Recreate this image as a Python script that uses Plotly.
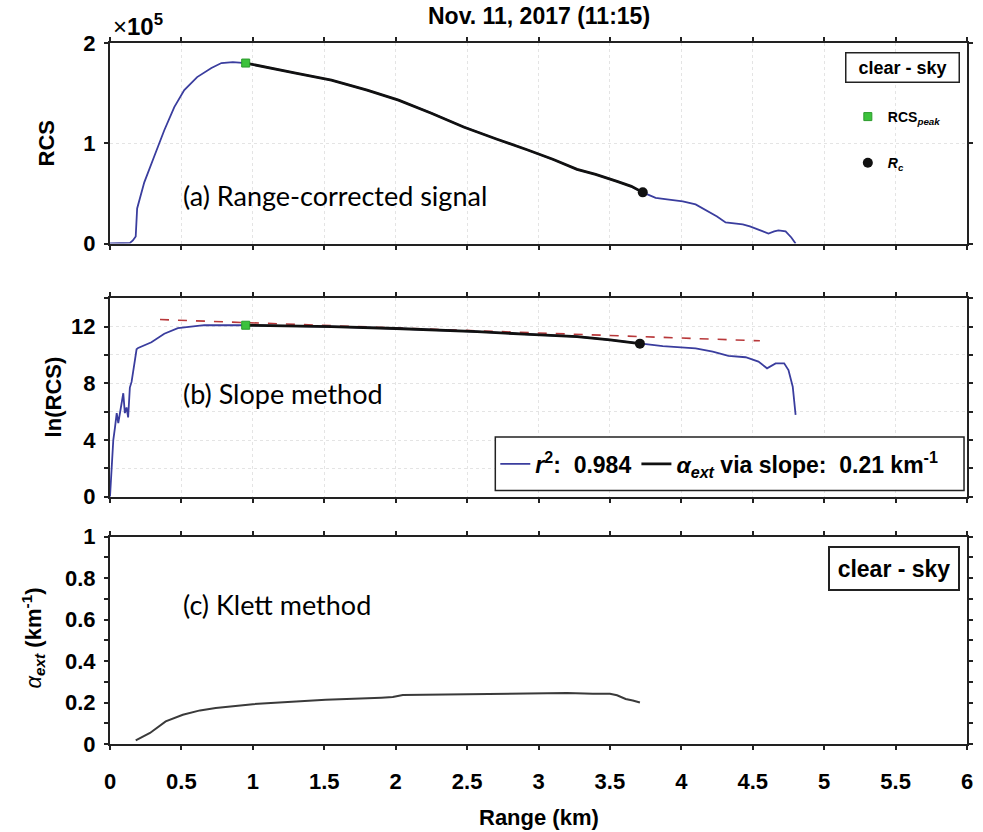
import plotly.graph_objects as go

# ---------------- data ----------------
# (a) range-corrected signal, full profile (range in km, RCS in units of 1e5)
range_a = [0.00, 0.05, 0.10, 0.14, 0.16, 0.18, 0.19, 0.24, 0.31, 0.38, 0.45, 0.52,
           0.61, 0.71, 0.78, 0.86, 0.95, 1.10, 1.30, 1.55, 1.80, 2.02, 2.25, 2.48,
           2.57, 2.71, 2.92, 3.10, 3.27, 3.40, 3.55, 3.65, 3.73, 3.78, 3.82, 3.90,
           4.01, 4.10, 4.19, 4.25, 4.31, 4.37, 4.43, 4.48, 4.54, 4.61, 4.65, 4.68,
           4.73, 4.77, 4.80]
rcs_e5 = [0.000, 0.002, 0.003, 0.006, 0.030, 0.070, 0.350, 0.610, 0.870, 1.130, 1.360, 1.530,
          1.660, 1.750, 1.800, 1.810, 1.800, 1.760, 1.700, 1.630, 1.530, 1.430, 1.300, 1.160,
          1.110, 1.040, 0.935, 0.840, 0.740, 0.690, 0.620, 0.570, 0.510, 0.480, 0.455, 0.440,
          0.420, 0.390, 0.320, 0.270, 0.210, 0.200, 0.190, 0.170, 0.140, 0.100, 0.120, 0.130,
          0.120, 0.060, 0.000]

# (b) ln(RCS) profile
range_b = [0.000, 0.012, 0.023, 0.035, 0.047, 0.058, 0.070, 0.081, 0.093, 0.104, 0.116,
           0.127, 0.139, 0.151, 0.162, 0.174, 0.186, 0.197, 0.29, 0.38, 0.475, 0.66,
           0.80, 0.95, 1.30, 1.55, 2.00, 2.30, 2.57, 2.90, 3.27, 3.50, 3.71, 3.87,
           4.10, 4.22, 4.33, 4.45, 4.54, 4.60, 4.66, 4.72, 4.75, 4.78, 4.80]
ln_rcs = [0.0, 2.6, 4.0, 4.9, 5.9, 5.2, 5.9, 6.8, 7.3, 5.9, 6.3,
          5.6, 7.7, 8.1, 8.7, 9.6, 10.4, 10.5, 10.9, 11.5, 11.9, 12.1,
          12.1, 12.1, 12.04, 12.0, 11.87, 11.78, 11.65, 11.47, 11.29, 11.06, 10.80, 10.63,
          10.47, 10.23, 9.93, 9.84, 9.53, 9.06, 9.41, 9.41, 8.94, 7.76, 5.77]

# Fit window: from the RCS peak to the reference range Rc
r_peak_km = 0.95
r_c_km = 3.73
r_c_km_b = 3.71

# Linear fit of ln(RCS) drawn over the fit span
fit_range = [0.35, 4.55]
fit_ln = [12.5, 11.0]

r_squared = 0.984
alpha_slope = 0.21

# (c) Klett extinction coefficient (km^-1)
range_c = [0.18, 0.28, 0.39, 0.51, 0.63, 0.74, 1.00, 1.25, 1.51, 1.90, 1.98, 2.05,
           2.25, 2.48, 2.57, 2.80, 3.04, 3.20, 3.38, 3.50, 3.55, 3.61, 3.66, 3.71]
alpha_klett = [0.017, 0.053, 0.109, 0.141, 0.162, 0.173, 0.192, 0.203, 0.213, 0.223, 0.226, 0.236,
               0.238, 0.241, 0.242, 0.244, 0.248, 0.246, 0.242, 0.242, 0.235, 0.217, 0.210, 0.200]

# ---------------- styling ----------------
BLUE = "#3a3d9e"
BLACK = "#111111"
GREEN = "#3cc23c"
RED = "#b8383a"
GRAY_LINE = "#3a3a3a"
FONT = "Liberation Sans, Arial, sans-serif"
LABEL_FONT = "Lato, Open Sans, sans-serif"

W, H = 983, 832
ML, MR, MT, MB = 110, 10, 43, 88
PW, PH = W - ML - MR, H - MT - MB


def px_x(x):
    return (x - ML) / PW


def px_y(y):
    return (H - MB - y) / PH


def sel(xs, ys, lo, hi):
    pts = [(x, y) for x, y in zip(xs, ys) if lo - 1e-9 <= x <= hi + 1e-9]
    return [p[0] for p in pts], [p[1] for p in pts]


rcs = [v * 1e5 for v in rcs_e5]
peak_rcs = rcs[range_a.index(r_peak_km)]
rc_rcs = rcs[range_a.index(r_c_km)]
peak_ln = ln_rcs[range_b.index(r_peak_km)]
rc_ln = ln_rcs[range_b.index(r_c_km_b)]

fig = go.Figure()

# ---- panel (a)
fig.add_trace(go.Scatter(x=range_a, y=rcs, mode="lines", line=dict(color=BLUE, width=1.8),
                         xaxis="x", yaxis="y", showlegend=False))
xa, ya = sel(range_a, rcs, r_peak_km, r_c_km)
fig.add_trace(go.Scatter(x=xa, y=ya, mode="lines", line=dict(color=BLACK, width=2.8),
                         xaxis="x", yaxis="y", showlegend=False))
fig.add_trace(go.Scatter(x=[r_peak_km], y=[peak_rcs], mode="markers",
                         marker=dict(symbol="square", size=8, color=GREEN,
                                     line=dict(color="#2a9a2a", width=1)),
                         xaxis="x", yaxis="y", name="<b>RCS<sub><i>peak</i></sub></b>",
                         legend="legend", legendgroup="peak"))
fig.add_trace(go.Scatter(x=[r_c_km], y=[rc_rcs], mode="markers",
                         marker=dict(symbol="circle", size=10, color=BLACK),
                         xaxis="x", yaxis="y", name="<b><i>R<sub>c</sub></i></b>",
                         legend="legend", legendgroup="rc"))

# ---- panel (b)
fig.add_trace(go.Scatter(x=fit_range, y=fit_ln, mode="lines",
                         line=dict(color=RED, width=1.6, dash="dash"),
                         xaxis="x2", yaxis="y2", showlegend=False))
fig.add_trace(go.Scatter(x=range_b, y=ln_rcs, mode="lines", line=dict(color=BLUE, width=1.8),
                         xaxis="x2", yaxis="y2", legend="legend2",
                         name=f"<b><i>r</i><sup>2</sup>:  {r_squared:.3f}</b>"))
xb, yb = sel(range_b, ln_rcs, r_peak_km, r_c_km_b)
fig.add_trace(go.Scatter(x=xb, y=yb, mode="lines", line=dict(color=BLACK, width=2.8),
                         xaxis="x2", yaxis="y2", legend="legend2",
                         name=f"<b><i>α</i><sub><i>ext</i></sub> via slope:  {alpha_slope:.2f} km<sup>-1</sup></b>"))
fig.add_trace(go.Scatter(x=[r_peak_km], y=[peak_ln], mode="markers",
                         marker=dict(symbol="square", size=8, color=GREEN,
                                     line=dict(color="#2a9a2a", width=1)),
                         xaxis="x2", yaxis="y2", showlegend=False))
fig.add_trace(go.Scatter(x=[r_c_km_b], y=[rc_ln], mode="markers",
                         marker=dict(symbol="circle", size=10, color=BLACK),
                         xaxis="x2", yaxis="y2", showlegend=False))

# ---- panel (c)
fig.add_trace(go.Scatter(x=range_c, y=alpha_klett, mode="lines",
                         line=dict(color=GRAY_LINE, width=2),
                         xaxis="x3", yaxis="y3", showlegend=False))

# ---------------- axes ----------------
axis_common = dict(showline=True, linecolor="#222222", linewidth=2, mirror="allticks",
                   ticks="outside", ticklen=4, tickwidth=1.5, tickcolor="#222222",
                   zeroline=False,
                   tickfont=dict(family=FONT, size=22, color="black", weight="bold"))

x_ticks = [i * 0.5 for i in range(13)]
x_text = ["0", "0.5", "1", "1.5", "2", "2.5", "3", "3.5", "4", "4.5", "5", "5.5", "6"]

dom_a = [px_y(243.5), 1.0]
dom_b = [px_y(496.7), px_y(298.3)]
dom_c = [0.0, px_y(536.5)]

GRID_COLOR = "#e4e4e4"
grid = dict(showgrid=True, gridcolor=GRID_COLOR, gridwidth=1, griddash="dot")

fig.update_layout(
    xaxis=dict(axis_common, domain=[0, 1], anchor="y", range=[0, 6], tickvals=x_ticks,
               showticklabels=False, **grid),
    yaxis=dict(axis_common, domain=dom_a, anchor="x", range=[0, 2e5],
               tickvals=[0, 1e5, 2e5], ticktext=["0", "1", "2"], ticklabelstandoff=4, **grid),
    xaxis2=dict(axis_common, domain=[0, 1], anchor="y2", range=[0, 6], tickvals=x_ticks,
                showticklabels=False, **grid),
    yaxis2=dict(axis_common, domain=dom_b, anchor="x2", range=[0, 14],
                tickvals=[0, 4, 8, 12], ticklabelstandoff=4,
                minor=dict(tick0=0, dtick=2, ticks="outside", ticklen=4, tickwidth=1.5,
                           tickcolor="#222222", showgrid=True, gridcolor=GRID_COLOR,
                           griddash="dot"),
                **grid),
    xaxis3=dict(axis_common, domain=[0, 1], anchor="y3", range=[0, 6], tickvals=x_ticks,
                ticktext=x_text, ticklabelstandoff=13, showgrid=False),
    yaxis3=dict(axis_common, domain=dom_c, anchor="x3", range=[0, 1],
                tickvals=[0, 0.2, 0.4, 0.6, 0.8, 1.0], ticktext=["0", "0.2", "0.4", "0.6", "0.8", "1"],
                ticklabelstandoff=4, showgrid=False,
                minor=dict(tick0=0, dtick=0.1, ticks="outside", ticklen=4, tickwidth=1.5,
                           tickcolor="#222222", showgrid=False)),
)

# ---------------- legends ----------------
fig.update_layout(
    legend=dict(x=px_x(853), y=px_y(101), xanchor="left", yanchor="top",
                bgcolor="rgba(0,0,0,0)", borderwidth=0, tracegroupgap=25,
                itemwidth=30,
                font=dict(family=FONT, size=14, color="black")),
    legend2=dict(x=px_x(498), y=px_y(464), xanchor="left", yanchor="middle",
                 orientation="h", bgcolor="rgba(0,0,0,0)", borderwidth=0,
                 itemwidth=30,
                 font=dict(family=FONT, size=23, color="black")),
)

# frame around the slope-method legend
fig.add_shape(type="rect", xref="paper", yref="paper",
              x0=px_x(498), x1=px_x(970), y0=px_y(490.5), y1=px_y(437),
              line=dict(color="#222222", width=1.5), fillcolor="white", layer="above")

# ---------------- text ----------------
annotations = [
    dict(text="<b>Nov. 11, 2017 (11:15)</b>", x=0.5, y=px_y(16), xanchor="center",
         yanchor="middle", font=dict(family=FONT, size=23)),
    dict(text="×<b>10<sup>5</sup></b>", x=px_x(111), y=px_y(42), xanchor="left",
         yanchor="bottom", font=dict(family=FONT, size=24)),
    dict(text="<b>RCS</b>", x=px_x(46), y=px_y(143), textangle=-90, xanchor="center",
         yanchor="middle", font=dict(family=FONT, size=22)),
    dict(text="<b>ln(RCS)</b>", x=px_x(54), y=px_y(397), textangle=-90, xanchor="center",
         yanchor="middle", font=dict(family=FONT, size=22)),
    dict(text="<i>α</i><sub><b><i>ext</i></b></sub><b> (km<sup>-1</sup>)</b>", x=px_x(32),
         y=px_y(638), textangle=-90, xanchor="center", yanchor="middle",
         font=dict(family=FONT, size=22)),
    dict(text="<b>Range (km)</b>", x=0.5, y=px_y(818), xanchor="center", yanchor="middle",
         font=dict(family=FONT, size=22)),
    dict(text="(a) Range-corrected signal", x=px_x(182), y=px_y(196), xanchor="left",
         yanchor="middle", font=dict(family=LABEL_FONT, size=27)),
    dict(text="(b) Slope method", x=px_x(182), y=px_y(394), xanchor="left",
         yanchor="middle", font=dict(family=LABEL_FONT, size=27)),
    dict(text="(c) Klett method", x=px_x(182), y=px_y(604), xanchor="left",
         yanchor="middle", font=dict(family=LABEL_FONT, size=27)),
    dict(text="<b>clear - sky</b>", x=px_x(908), y=px_y(67.5), xanchor="center",
         yanchor="middle", width=112, height=28, borderpad=0, bordercolor="#222222",
         borderwidth=1.5, bgcolor="white", font=dict(family=FONT, size=18)),
    dict(text="<b>clear - sky</b>", x=px_x(899), y=px_y(568.5), xanchor="center",
         yanchor="middle", width=128, height=41, borderpad=0, bordercolor="#222222",
         borderwidth=2, bgcolor="white", font=dict(family=FONT, size=23)),
]
for a in annotations:
    a.update(xref="paper", yref="paper", showarrow=False)

fig.update_layout(
    width=W, height=H, margin=dict(l=ML, r=MR, t=MT, b=MB),
    paper_bgcolor="white", plot_bgcolor="white",
    font=dict(family=FONT, color="black"),
    annotations=annotations,
)

fig.write_html("out.html", config={"displayModeBar": False})
